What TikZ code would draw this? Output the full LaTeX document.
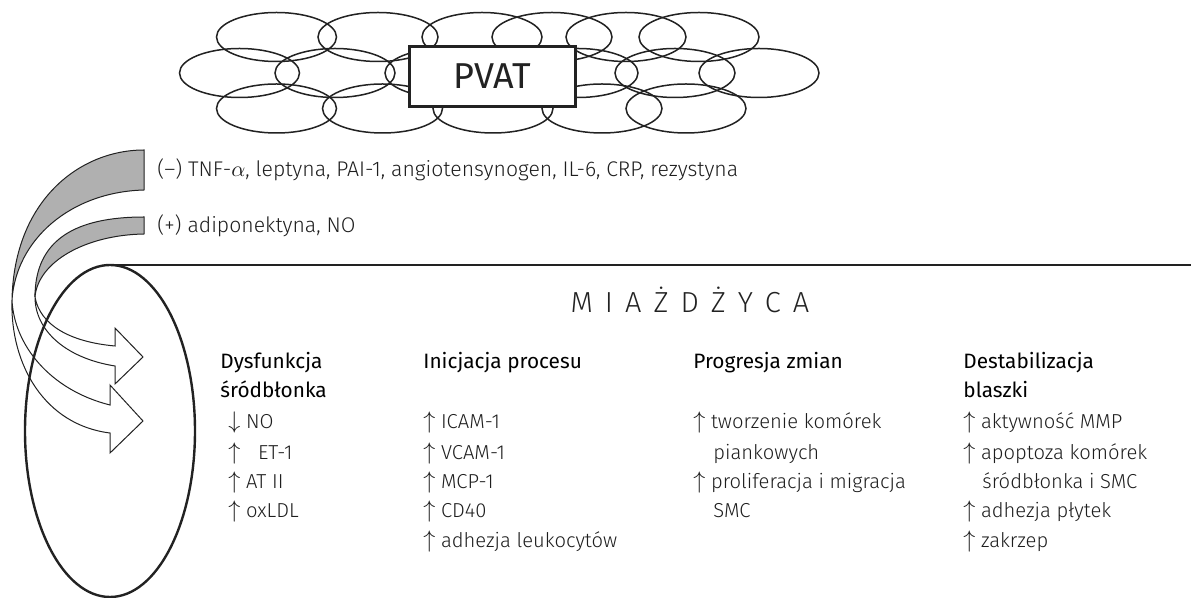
\documentclass[tikz,border=0pt]{standalone}
\usepackage{fontspec}
\setmainfont{Fira Sans Light}
\newfontfamily\rgfont{Fira Sans}
\definecolor{ink}{HTML}{222222}
\definecolor{txt}{HTML}{1E1E1E}
\definecolor{band}{HTML}{B0B0B0}
\newcommand\tsp{\hspace{6pt}}
\newcommand\up{{\fontsize{11.5}{12}\selectfont$\uparrow$}}
\newcommand\dn{{\fontsize{11.5}{12}\selectfont$\downarrow$}}
\begin{document}
\begin{tikzpicture}[x=0.5pt,y=-0.5pt,
  cell/.style={draw=ink, line width=0.75pt},
  ribbon/.style={draw=ink, line width=0.5pt, line join=miter},
  body/.style={anchor=base west, inner sep=0pt, text=txt, font=\fontsize{10.1}{12}\selectfont},
  factor/.style={body, font=\fontsize{10.6}{12}\selectfont},
  head/.style={anchor=base west, inner sep=0pt, text=black, font=\rgfont\fontsize{10.4}{12}\selectfont},
  pvatbox/.style={draw=ink, line width=1.5pt, fill=white, inner sep=0pt,
    minimum width=83pt, minimum height=30pt, font=\rgfont\fontsize{18}{20}\selectfont, text=ink}
]
\path[use as bounding box] (0,0) rectangle (1191,598);

% cloud of adipocytes
\foreach \cx in {276.5,378,482,552,626,699}
  \draw[cell] (\cx,37) ellipse [x radius=30pt, y radius=12.25pt];
\foreach \cx in {239.5,335,445,578,675,759}
  \draw[cell] (\cx,73) ellipse [x radius=30pt, y radius=12.25pt];
\foreach \cx in {276.5,382.5,493,602,686}
  \draw[cell] (\cx,108.5) ellipse [x radius=30pt, y radius=12.25pt];
\node[pvatbox] (pvat) at (492.5,76.5) {PVAT};

% gray bands (back of ribbons)
\filldraw[ribbon, fill=band] (144,150) .. controls (80,150) and (14,200) .. (12,300)
  .. controls (16,240) and (70,192) .. (144,190) -- cycle;
\filldraw[ribbon, fill=band] (144,217) .. controls (75,217) and (35,240) .. (35,297)
  .. controls (38,262) and (85,235) .. (144,234) -- cycle;

% white ribbon arrows
\filldraw[ribbon, fill=white] (12,300) .. controls (14,345) and (50,390) .. (110,405)
  -- (110,385) -- (143,421) -- (110,453) -- (110,433)
  .. controls (45,425) and (10,365) .. (12,300) -- cycle;
\filldraw[ribbon, fill=white] (35,297) .. controls (40,325) and (70,342) .. (115,346)
  -- (115,328) -- (143,357) -- (115,384) -- (115,366)
  .. controls (65,358) and (35,330) .. (35,297) -- cycle;

% vessel and line
\draw[draw=ink, line width=1.2pt] (110,431) ellipse [x radius=42.5pt, y radius=83pt];
\coordinate (vtop) at (110,265);
\coordinate (lineend) at (1191,265);
\draw[draw=ink, line width=1pt] (vtop) -- (lineend);

% factor texts
\node[factor] (neg) at (157,177) {(–) TNF-$\alpha$, leptyna, PAI-1, angiotensynogen, IL-6, CRP, rezystyna};
\node[factor] (pos) at (157,233) {(+) adiponektyna, NO};

% title
\node[anchor=base, inner sep=0pt, text=ink, font=\fontsize{14.5}{16}\selectfont] (title) at (690,313)
  {M\tsp I\tsp A\tsp Ż\tsp D\tsp Ż\tsp Y\tsp C\tsp A};

% column 1
\node[head] (h1a) at (220,369) {Dysfunkcja};
\node[head] (h1b) at (220,398) {śródbłonka};
\node[body] (c1a) at (228,429) {\dn\ NO};
\node[body] (c1b) at (228,460) {\up\hspace{6pt} ET-1};
\node[body] (c1c) at (228,489) {\up\ AT II};
\node[body] (c1d) at (228,518) {\up\ oxLDL};

% column 2
\node[head] (h2) at (423,369) {Inicjacja procesu};
\node[body] (c2a) at (423,429) {\up\ ICAM-1};
\node[body] (c2b) at (423,460) {\up\ VCAM-1};
\node[body] (c2c) at (423,489) {\up\ MCP-1};
\node[body] (c2d) at (423,518) {\up\ CD40};
\node[body] (c2e) at (423,548) {\up\ adhezja leukocytów};

% column 3
\node[head] (h3) at (693,369) {Progresja zmian};
\node[body] (c3a) at (693,429) {\up\ tworzenie komórek};
\node[body] (c3b) at (713,460) {piankowych};
\node[body] (c3c) at (693,489) {\up\ proliferacja i migracja};
\node[body] (c3d) at (713,518) {SMC};

% column 4
\node[head] (h4a) at (963,369) {Destabilizacja};
\node[head] (h4b) at (963,398) {blaszki};
\node[body] (c4a) at (963,429) {\up\ aktywność MMP};
\node[body] (c4b) at (963,460) {\up\ apoptoza komórek};
\node[body] (c4c) at (982,489) {śródbłonka i SMC};
\node[body] (c4d) at (963,518) {\up\ adhezja płytek};
\node[body] (c4e) at (963,548) {\up\ zakrzep};
\end{tikzpicture}
\end{document}
